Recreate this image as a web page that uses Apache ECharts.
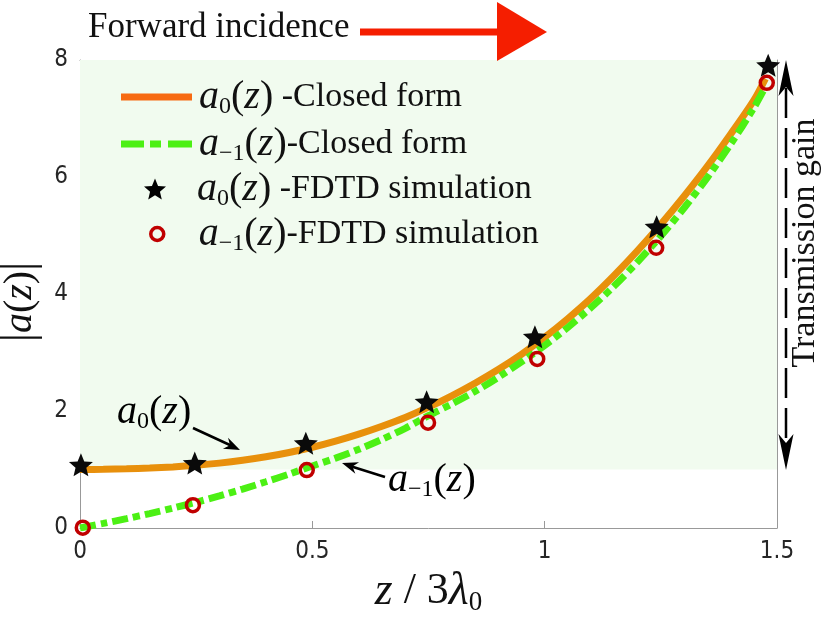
<!DOCTYPE html>
<html>
<head>
<meta charset="utf-8">
<script src="https://cdn.jsdelivr.net/npm/echarts@6/dist/echarts.min.js"></script>
<style>
html,body{margin:0;padding:0;background:#fff;}
#chart{width:830px;height:619px;}
</style>
</head>
<body>
<div id="chart"></div>
<script>
// ---- data ----
const curveX    = [0,0.05,0.1,0.15,0.2,0.25,0.3,0.35,0.4,0.45,0.5,0.55,0.6,0.65,0.7,0.75,0.8,0.85,0.9,0.95,1.0,1.05,1.1,1.15,1.2,1.25,1.3,1.35,1.4,1.45,1.475];
const a0Closed  = [1.000,1.003,1.011,1.024,1.044,1.072,1.109,1.157,1.217,1.291,1.380,1.485,1.605,1.740,1.890,2.065,2.260,2.475,2.710,2.970,3.260,3.580,3.930,4.320,4.740,5.190,5.670,6.180,6.730,7.310,7.680];
const am1Closed = [0.000,0.078,0.160,0.247,0.340,0.440,0.548,0.665,0.790,0.922,1.060,1.195,1.345,1.515,1.705,1.920,2.120,2.335,2.575,2.840,3.120,3.430,3.770,4.140,4.550,4.990,5.470,5.990,6.560,7.180,7.540];
const starX     = [0.002,0.247,0.486,0.746,0.979,1.241,1.481];
const a0Fdtd    = [1.08,1.11,1.45,2.16,3.27,5.15,7.91];
const circX     = [0.006,0.243,0.488,0.749,0.984,1.240,1.478];
const am1Fdtd   = [0.005,0.39,0.99,1.80,2.89,4.79,7.61];
const xTicks    = [0,0.5,1,1.5];
const yTicks    = [0,2,4,6,8];
const gainBand  = [1,8];

const SERIF = "'Liberation Serif','Times New Roman',serif";
const SANS  = "'Liberation Sans Narrow','DejaVu Sans Condensed','Liberation Sans',sans-serif";
const STAR  = 'path://M50,0 L63.2,31.8 L97.6,34.5 L71.4,56.9 L79.4,90.5 L50,72.5 L20.6,90.5 L28.6,56.9 L2.4,34.5 L36.8,31.8 Z';

const zip = (xs, ys) => xs.map((x, i) => [x, ys[i]]);

const rich = {
  m: {fontFamily: SERIF, fontStyle: 'italic', fontSize: 40, lineHeight: 44, color: '#111'},
  p: {fontFamily: SERIF, fontSize: 40, lineHeight: 44, color: '#111'},
  s: {fontFamily: SERIF, fontSize: 24, lineHeight: 24, verticalAlign: 'bottom', color: '#111'},
  t: {fontFamily: SERIF, fontSize: 34, lineHeight: 44, color: '#111'}
};
const xNameRich = {
  m: {fontFamily: SERIF, fontStyle: 'italic', fontSize: 46, lineHeight: 50, color: '#111'},
  t: {fontFamily: SERIF, fontSize: 44, lineHeight: 50, color: '#111'},
  s: {fontFamily: SERIF, fontSize: 27, lineHeight: 26, verticalAlign: 'bottom', color: '#111'}
};
const a0Rich  = '{m|a}{s|0}{p|(}{m|z}{p|)}';
const am1Rich = '{m|a}{s|−1}{p|(}{m|z}{p|)}';
const legendText = {
  a0c:  a0Rich + '{t| -Closed form}',
  am1c: am1Rich + '{t|-Closed form}',
  a0f:  a0Rich + '{t| -FDTD simulation}',
  am1f: am1Rich + '{t|-FDTD simulation}'
};

const ORANGE = '#E8900C', ORANGE_LEG = '#F76A12';
const GREEN = '#4CF014';
const RED = '#C00000';
const AXIS = '#999999';

const chart = echarts.init(document.getElementById('chart'), null, {renderer: 'canvas'});

const baseX = {
  type: 'value', min: xTicks[0], max: xTicks[xTicks.length - 1], interval: 0.5,
  axisLine: {show: true, onZero: false, lineStyle: {color: AXIS, width: 1}},
  axisTick: {show: true, inside: true, length: 7, lineStyle: {color: AXIS}},
  splitLine: {show: false}
};
const baseY = {
  type: 'value', min: yTicks[0], max: yTicks[yTicks.length - 1], interval: 2,
  axisLine: {show: true, onZero: false, lineStyle: {color: AXIS, width: 1}},
  axisTick: {show: true, inside: true, length: 7, lineStyle: {color: AXIS}},
  splitLine: {show: false}
};

function arrowHead(tip, dir, len, half, notch) {
  const n = Math.hypot(dir[0], dir[1]);
  const d = [dir[0] / n, dir[1] / n];
  const p = [-d[1], d[0]];
  const b = [tip[0] - len * d[0], tip[1] - len * d[1]];
  return [tip, [b[0] + half * p[0], b[1] + half * p[1]], [tip[0] - notch * d[0], tip[1] - notch * d[1]], [b[0] - half * p[0], b[1] - half * p[1]]];
}

const option = {
  animation: false,
  backgroundColor: '#ffffff',
  grid: {left: 80, right: 53, top: 60, bottom: 91, containLabel: false, outerBoundsMode: 'none'},
  xAxis: [
    Object.assign({}, baseX, {
      position: 'bottom',
      axisLabel: {show: true, margin: 12, fontFamily: SANS, fontSize: 24, color: '#262626'},
      name: '{m|z}{t| / 3}{m|λ}{s|0}',
      nameLocation: 'middle', nameGap: 30,
      nameTextStyle: {rich: xNameRich}
    }),
    Object.assign({}, baseX, {position: 'top', axisLabel: {show: false}})
  ],
  yAxis: [
    Object.assign({}, baseY, {
      position: 'left',
      axisLabel: {show: true, margin: 12, fontFamily: SANS, fontSize: 24, color: '#262626'},
      name: '{b||}{m|a}{p|(}{m|z}{p|)}{b||}',
      nameLocation: 'middle', nameGap: 37, nameRotate: 90,
      nameTextStyle: {padding: [0, 16, 0, 0], rich: Object.assign({}, rich, {
        b: {fontFamily: SERIF, fontSize: 46, lineHeight: 44, color: '#111'}
      })}
    }),
    Object.assign({}, baseY, {position: 'right', axisLabel: {show: false}})
  ],
  legend: [
    {
      data: [
        {name: 'a0c', icon: 'rect', itemStyle: {color: ORANGE_LEG, borderWidth: 0}},
        {name: 'am1c', icon: 'path://M0,0h23v7h-23z M29,0h11v7h-11z M47,0h24v7h-24z', itemStyle: {color: GREEN, borderWidth: 0}}
      ],
      orient: 'vertical', left: 121, top: 77, itemWidth: 71, itemHeight: 7, itemGap: 5,
      selectedMode: false, padding: 0,
      formatter: n => legendText[n],
      textStyle: {rich: rich, padding: [0, 0, 0, 2]}
    },
    {
      data: [{name: 'a0f', icon: STAR, itemStyle: {color: '#000', borderWidth: 0}}],
      orient: 'vertical', left: 144, top: 169, itemWidth: 22, itemHeight: 22, itemGap: 0,
      selectedMode: false, padding: 0,
      formatter: n => legendText[n],
      textStyle: {rich: rich, padding: [0, 0, 0, 26]}
    },
    {
      data: [{name: 'am1f', icon: 'circle', itemStyle: {color: 'rgba(0,0,0,0)', borderColor: RED, borderWidth: 3.5}}],
      orient: 'vertical', left: 149, top: 214, itemWidth: 13, itemHeight: 13, itemGap: 0,
      selectedMode: false, padding: 0,
      formatter: n => legendText[n],
      textStyle: {rich: rich, padding: [0, 0, 0, 30]}
    }
  ],
  series: [
    {
      name: 'band', type: 'line', data: [], silent: true, z: 0,
      markArea: {
        silent: true,
        itemStyle: {color: '#F1FBEF'},
        data: [[{xAxis: xTicks[0], yAxis: gainBand[0]}, {xAxis: xTicks[xTicks.length - 1], yAxis: gainBand[1]}]]
      }
    },
    {
      name: 'a0c', type: 'line', data: zip(curveX, a0Closed), smooth: 0.3, showSymbol: false, symbol: 'none',
      lineStyle: {color: ORANGE, width: 7}, itemStyle: {color: ORANGE}, z: 2
    },
    {
      name: 'am1c', type: 'line', data: zip(curveX, am1Closed), smooth: 0.3, showSymbol: false, symbol: 'none',
      lineStyle: {color: GREEN, width: 7, type: [16, 5, 7, 5]}, itemStyle: {color: GREEN}, z: 3
    },
    {
      name: 'a0f', type: 'scatter', data: zip(starX, a0Fdtd), symbol: STAR, symbolSize: [24, 23],
      itemStyle: {color: '#0a0a0a', opacity: 1}, z: 4
    },
    {
      name: 'am1f', type: 'scatter', data: zip(circX, am1Fdtd), symbol: 'circle', symbolSize: 13,
      itemStyle: {color: 'rgba(0,0,0,0)', borderColor: RED, borderWidth: 3.5, opacity: 1}, z: 5
    }
  ],
  graphic: [
    {type: 'text', z: 100, x: 88, y: 28, style: {text: 'Forward incidence', font: '35px ' + SERIF, fill: '#111', align: 'left', verticalAlign: 'middle'}},
    {type: 'line', z: 100, shape: {x1: 360, y1: 32, x2: 500, y2: 32}, style: {stroke: '#F51E00', lineWidth: 7}},
    {type: 'polygon', z: 100, shape: {points: [[497, 2], [547, 32], [497, 61]]}, style: {fill: '#F51E00'}},

    {type: 'line', z: 100, shape: {x1: 786, y1: 88, x2: 786, y2: 443}, style: {stroke: '#000', lineWidth: 2.5, lineDash: [30, 10]}},
    {type: 'polygon', z: 100, shape: {points: arrowHead([786, 60], [0, -1], 36, 7.5, 27)}, style: {fill: '#000'}},
    {type: 'polygon', z: 100, shape: {points: arrowHead([786, 470], [0, 1], 36, 7.5, 27)}, style: {fill: '#000'}},
    {type: 'text', z: 100, x: 805, y: 243, rotation: Math.PI / 2, style: {text: 'Transmission gain', font: '34px ' + SERIF, fill: '#111', align: 'center', verticalAlign: 'middle'}},

    {type: 'text', z: 100, x: 117, y: 412, style: {text: a0Rich, rich: rich, align: 'left', verticalAlign: 'middle'}},
    {type: 'line', z: 100, shape: {x1: 193, y1: 428, x2: 232, y2: 446}, style: {stroke: '#000', lineWidth: 2.5}},
    {type: 'polygon', z: 100, shape: {points: arrowHead([240, 450], [47, 22], 16, 6, 11)}, style: {fill: '#000'}},

    {type: 'text', z: 100, x: 388, y: 480, style: {text: am1Rich, rich: rich, align: 'left', verticalAlign: 'middle'}},
    {type: 'line', z: 100, shape: {x1: 385, y1: 477, x2: 350, y2: 466}, style: {stroke: '#000', lineWidth: 2.5}},
    {type: 'polygon', z: 100, shape: {points: arrowHead([342, 463], [-43, -14], 16, 6, 11)}, style: {fill: '#000'}}
  ]
};

chart.setOption(option);
</script>
</body>
</html>
